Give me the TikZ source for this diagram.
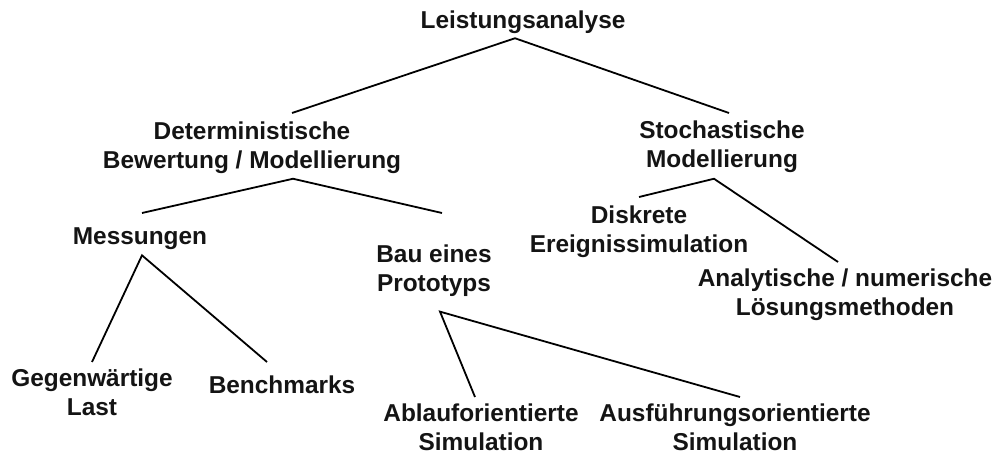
\documentclass[tikz,border=0pt]{standalone}
\usepackage{fontspec}
\setmainfont{Liberation Sans}
\usetikzlibrary{calc}
\begin{document}
\begin{tikzpicture}[x=1pt,y=-1pt]
      \tikzstyle{term} = [font=\fontsize{24.4}{28.5}\selectfont\bfseries,align=center,
        inner sep=0pt,anchor=north,text=black!92];
      \tikzstyle{twig} = [line width=1.8pt,line join=miter];
      \useasboundingbox (0,0) rectangle (996,454);
      \node [term] (root) at (523,11) {Leistungsanalyse};
      \node [term] (det) at (252,122) {Deterministische\\Bewertung / Modellierung};
      \node [term] (sto) at (722,121) {Stochastische\\Modellierung};
      \node [term] (mes) at (140,228) {Messungen};
      \node [term] (bau) at (434,245) {Bau eines\\Prototyps};
      \node [term] (dis) at (639,206) {Diskrete\\Ereignissimulation};
      \node [term] (ana) at (845,269) {Analytische / numerische\\Lösungsmethoden};
      \node [term] (geg) at (92,369) {Gegenwärtige\\Last};
      \node [term] (ben) at (282,376) {Benchmarks};
      \node [term] (abl) at (481,404) {Ablauforientierte\\Simulation};
      \node [term] (aus) at (735,404) {Ausführungsorientierte\\Simulation};
      \draw [twig] ($(det.north)+(40,-9)$) -- ($(root.south)+(-8,4)$) -- ($(sto.north)+(7,-8)$);
      \draw [twig] ($(mes.north)+(2,-15)$) -- ($(det.south)+(41,5)$) -- ($(bau.north)+(8,-32)$);
      \draw [twig] ($(dis.north)+(0,-9)$) -- ($(sto.south)+(-8,6)$) -- ($(ana.north)+(-7,-7)$);
      \draw [twig] ($(geg.north)+(0,-7)$) -- ($(mes.south)+(2,5)$) -- ($(ben.north)+(-15,-14)$);
      \draw [twig] ($(abl.north)+(-6,-7)$) -- ($(bau.south)+(6,15)$) -- ($(aus.north)+(5,-7)$);
    \end{tikzpicture}
\end{document}
